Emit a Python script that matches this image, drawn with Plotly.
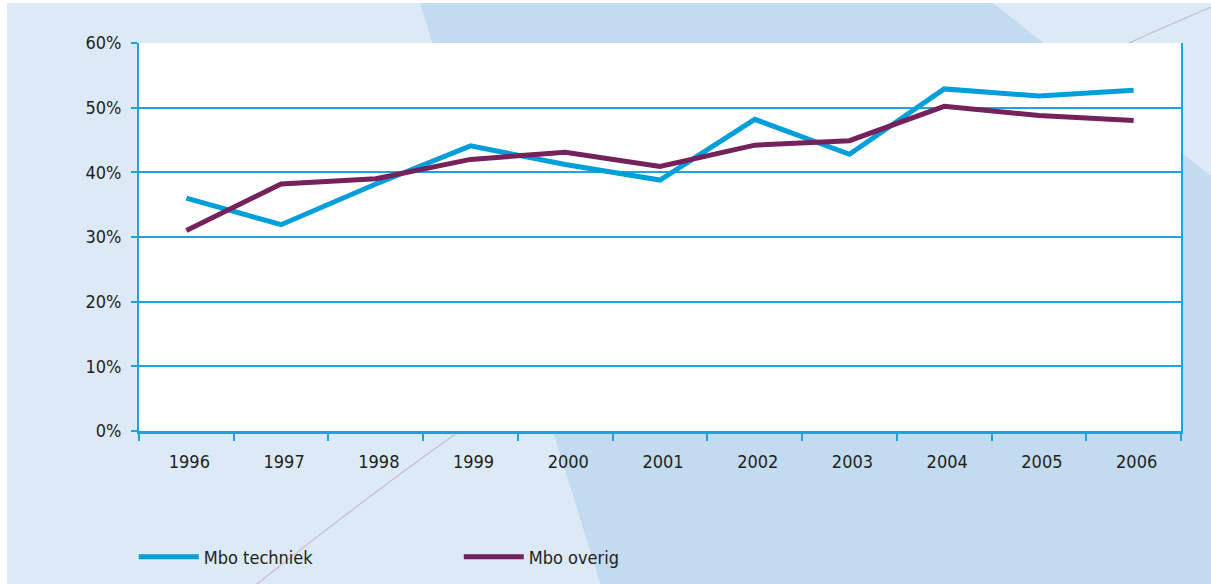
import plotly.graph_objects as go

years = ["1996", "1997", "1998", "1999", "2000", "2001", "2002", "2003", "2004", "2005", "2006"]
mbo_techniek = [0.360, 0.319, 0.382, 0.441, 0.412, 0.388, 0.482, 0.428, 0.529, 0.518, 0.527]
mbo_overig = [0.310, 0.382, 0.390, 0.420, 0.431, 0.409, 0.442, 0.449, 0.502, 0.488, 0.480]
y_ticks = [0, 0.1, 0.2, 0.3, 0.4, 0.5, 0.6]

W, H = 1211, 584
L, R, T, B = 139, 1181, 43, 431

CYAN = "#009fda"
PURPLE = "#74215c"
GRID = "#20a3dc"
LIGHT = "#dce9f6"
DARK = "#c3dbf0"
FONT = "DejaVu Sans Condensed, Liberation Sans Narrow, Arial Narrow, sans-serif"
FS = 18


def px(x, y):
    return (x - L) / (R - L), (B - y) / (B - T)


def path(points, close=True):
    s = ""
    for i, (x, y) in enumerate(points):
        a, b = px(x, y)
        s += ("M" if i == 0 else "L") + f"{a:.5f},{b:.5f} "
    return s + ("Z" if close else "")


shapes = []
# light background panel
x0, y0 = px(7, 3)
x1, y1 = px(W + 5, H + 5)
shapes.append(dict(type="rect", xref="paper", yref="paper", x0=x0, y0=y0, x1=x1, y1=y1,
                   fillcolor=LIGHT, line=dict(width=0), layer="below"))
# darker diagonal band
shapes.append(dict(type="path", xref="paper", yref="paper",
                   path=path([(420, 3), (993, 3), (W + 5, 180), (W + 5, H + 5), (602, H + 5)]),
                   fillcolor=DARK, line=dict(width=0), layer="below"))
# thin arc line
p0 = px(252, H + 4)
c = px(722, 212)
p2 = px(W + 5, 5)
shapes.append(dict(type="path", xref="paper", yref="paper",
                   path=f"M{p0[0]:.5f},{p0[1]:.5f} Q{c[0]:.5f},{c[1]:.5f} {p2[0]:.5f},{p2[1]:.5f}",
                   line=dict(color="#cdb9cf", width=1.2), layer="below"))
# white plot area
shapes.append(dict(type="rect", xref="paper", yref="paper", x0=0, y0=0, x1=1, y1=1,
                   fillcolor="white", line=dict(width=0), layer="below"))

fig = go.Figure()
fig.add_trace(go.Scatter(x=years, y=mbo_techniek, mode="lines", name="Mbo techniek",
                         line=dict(color=CYAN, width=5)))
fig.add_trace(go.Scatter(x=years, y=mbo_overig, mode="lines", name="Mbo overig",
                         line=dict(color=PURPLE, width=5)))

fig.update_layout(
    width=W, height=H,
    margin=dict(l=L, r=W - R, t=T, b=H - B, pad=0, autoexpand=False),
    paper_bgcolor="white",
    plot_bgcolor="rgba(0,0,0,0)",
    font=dict(family=FONT, size=FS, color="#231f20"),
    shapes=shapes,
    showlegend=True,
    hovermode=False,
    legend=dict(orientation="h", x=-0.005, xanchor="left", y=px(0, 557)[1], yanchor="middle",
                bgcolor="rgba(0,0,0,0)", itemwidth=60, entrywidth=250, entrywidthmode="pixels",
                font=dict(family=FONT, size=FS, color="#231f20"), tracegroupgap=0),
    xaxis=dict(type="category", tickson="boundaries", ticks="outside", ticklen=7,
               tickwidth=2, tickcolor=GRID, showline=True, linecolor=GRID, linewidth=3,
               showgrid=False, zeroline=False, range=[-0.5, 10.5], fixedrange=True,
               ticklabelstandoff=12, ticklabelshift=3, automargin=False,
               tickfont=dict(family=FONT, size=FS, color="#231f20")),
    yaxis=dict(range=[0, 0.6], tickvals=y_ticks, tickformat=".0%", ticks="outside", ticklen=6,
               tickwidth=2, tickcolor=GRID, showline=True, linecolor=GRID, linewidth=2,
               mirror=True, showgrid=True, gridcolor=GRID, gridwidth=1.6, zeroline=False,
               ticklabelstandoff=6, fixedrange=True, automargin=False,
               tickfont=dict(family=FONT, size=FS, color="#231f20")),
)

fig.write_html("out.html", config={"displayModeBar": False},
               post_script="document.body.style.margin='0px';")
